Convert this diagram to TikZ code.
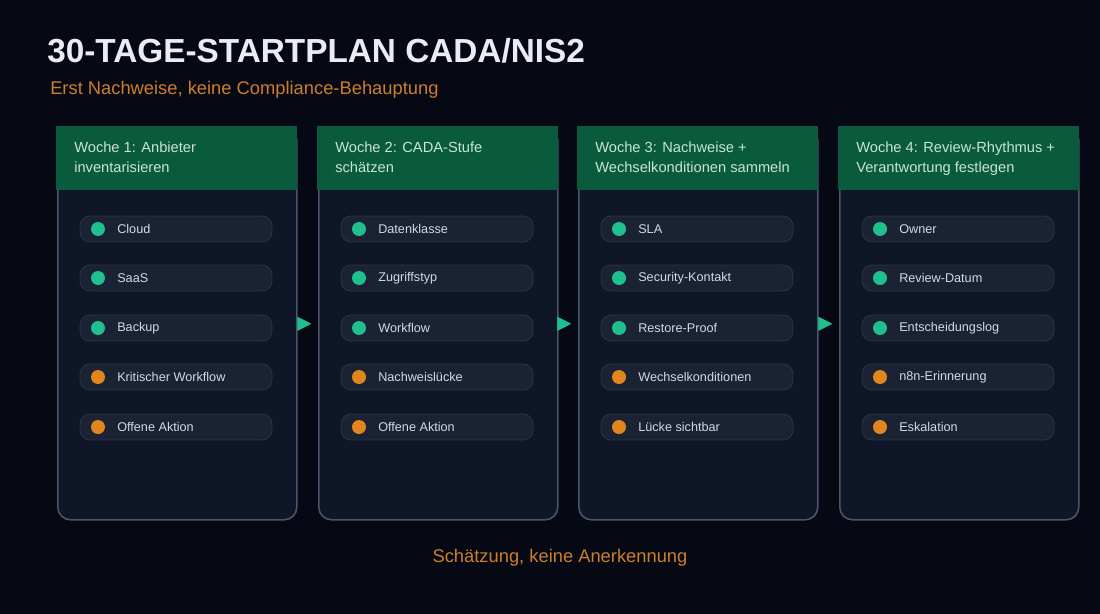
\documentclass[tikz,border=0pt]{standalone}
\usepackage{fontspec}
\setmainfont{Liberation Sans}
\usetikzlibrary{arrows.meta}
\definecolor{bg}{HTML}{060914}
\definecolor{colbody}{HTML}{0F1627}
\definecolor{colborder}{HTML}{4B5468}
\definecolor{hdr}{HTML}{0A5A3D}
\definecolor{hdrtext}{HTML}{C8E4D7}
\definecolor{pill}{HTML}{1A2233}
\definecolor{pillborder}{HTML}{2B3446}
\definecolor{pilltext}{HTML}{D3D9E3}
\definecolor{okdot}{HTML}{1FBF8E}
\definecolor{warndot}{HTML}{E0861C}
\definecolor{subtle}{HTML}{CC7E2C}
\definecolor{titlec}{HTML}{E8ECF4}
\tikzset{
  colbox/.style={draw=colborder, line width=1.2pt, fill=colbody, rounded corners=9.5pt, minimum width=179.25pt, minimum height=294pt, inner sep=0, anchor=north west},
  hdrbox/.style={fill=hdr, minimum width=180.75pt, minimum height=48pt, inner sep=0, anchor=north west},
  hdrtxt/.style={text=hdrtext, font=\fontsize{11}{14.5}\selectfont, align=left, anchor=north west, inner sep=0},
  pillbox/.style={draw=pillborder, line width=0.6pt, fill=pill, rounded corners=7.5pt, minimum width=144pt, minimum height=19.5pt, inner sep=0},
  dotok/.style={circle, fill=okdot, minimum size=10.5pt, inner sep=0},
  dotwarn/.style={circle, fill=warndot, minimum size=10.5pt, inner sep=0},
  pilltxt/.style={text=pilltext, font=\fontsize{9.5}{11}\selectfont, anchor=west, inner sep=0},
  flow/.style={draw=okdot, fill=okdot, line width=0.5pt, -{Triangle[length=10.5pt,width=10.5pt]}, shorten >=5pt}
}
\begin{document}
\begin{tikzpicture}[x=0.75pt,y=-0.75pt]
\fill[bg] (0,0) rectangle (1100,614);
\useasboundingbox (0,0) rectangle (1100,614);
\node[anchor=base west, inner sep=0, text=titlec, font=\fontsize{25}{30}\selectfont\bfseries] (title) at (47,62) {30-TAGE-STARTPLAN CADA/NIS2};
\node[anchor=base west, inner sep=0, text=subtle, font=\fontsize{13.75}{16}\selectfont] (subtitle) at (50,94) {Erst Nachweise, keine Compliance-Behauptung};

% columns
\foreach \i/\x in {1/57,2/318,3/578,4/839}{
  \node[colbox] (c\i) at (\x,127) {};
  \node[hdrbox] (h\i) at (\x-1,126) {};
}
\node[hdrtxt] (ht1) at (74,142) {Woche 1: Anbieter\\inventarisieren};
\node[hdrtxt] (ht2) at (335,142) {Woche 2: CADA-Stufe\\schätzen};
\node[hdrtxt] (ht3) at (595,142) {Woche 3: Nachweise +\\Wechselkonditionen sammeln};
\node[hdrtxt] (ht4) at (856,142) {Woche 4: Review-Rhythmus +\\Verantwortung festlegen};

% pills
\foreach \i/\x/\la/\lb/\lc/\ld/\le in {
  1/57/Cloud/SaaS/Backup/Kritischer Workflow/Offene Aktion,
  2/318/Datenklasse/Zugriffstyp/Workflow/Nachweislücke/Offene Aktion,
  3/578/SLA/Security-Kontakt/Restore-Proof/Wechselkonditionen/Lücke sichtbar,
  4/839/Owner/Review-Datum/Entscheidungslog/n8n-Erinnerung/Eskalation}{
  \foreach \j/\y/\t/\d in {1/229/\la/dotok,2/278/\lb/dotok,3/328/\lc/dotok,4/377/\ld/dotwarn,5/427/\le/dotwarn}{
    \node[pillbox] (p\i\j) at (\x+119,\y) {};
    \node[\d] (d\i\j) at (\x+41,\y) {};
    \node[pilltxt] (t\i\j) at (\x+60,\y) {\t};
  }
}

% arrows
\draw[flow] (c1.east) -- (c2.west);
\draw[flow] (c2.east) -- (c3.west);
\draw[flow] (c3.east) -- (c4.west);

\node[anchor=base, inner sep=0, text=subtle, font=\fontsize{13.75}{16}\selectfont] (footer) at (560,562) {Schätzung, keine Anerkennung};
\end{tikzpicture}
\end{document}
